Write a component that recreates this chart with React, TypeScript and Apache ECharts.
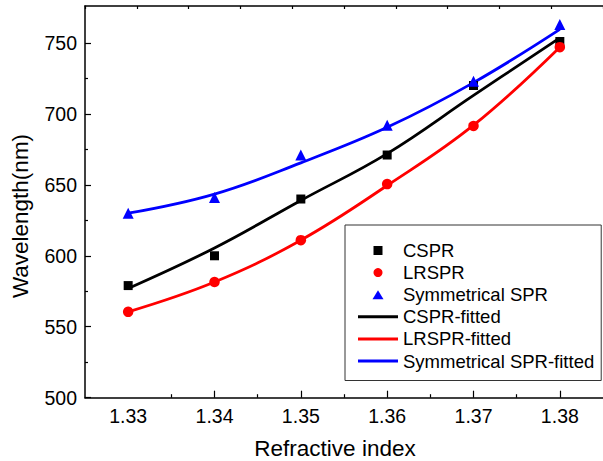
import React, { useEffect, useRef } from "react";
import * as echarts from "echarts";

const FONT = "'Liberation Sans', Arial, Helvetica, sans-serif";

const xValues = [1.33, 1.34, 1.35, 1.36, 1.37, 1.38];
const csprData = [579, 600, 640, 671, 720, 751];
const lrsprData = [560.5, 581.5, 611, 650.5, 691.5, 747];
const symData = [630, 641, 671, 692, 723, 763];
const csprFit = [577, 605.5, 639, 672, 713, 753.5];
const lrsprFit = [560.5, 581.5, 611, 649.5, 692, 747];
const symFit = [630, 643.5, 665.5, 690.5, 722, 759.5];

const xTickLabels = [1.33, 1.34, 1.35, 1.36, 1.37, 1.38];
const xMajorTicks = [1.34, 1.35, 1.36, 1.37, 1.38];
const xMinorTicks = [1.335, 1.345, 1.355, 1.365, 1.375];
const yTickLabels = [500, 550, 600, 650, 700, 750];
const yMinorTicks = [525, 575, 625, 675, 725];

const names = [
  "CSPR",
  "LRSPR",
  "Symmetrical SPR",
  "CSPR-fitted",
  "LRSPR-fitted",
  "Symmetrical SPR-fitted",
];

const pairs = (ys: number[]) => xValues.map((x, i) => [x, ys[i]]);

export default function App() {
  const ref = useRef<HTMLDivElement>(null);
  useEffect(() => {
    if (!ref.current) return;
    const chart = echarts.init(ref.current, undefined, { renderer: "svg" });
    const axisLine = { show: true, lineStyle: { color: "#000", width: 1.5 } };
    const lineIcon = "path://M0,0L40,0L40,3L0,3Z";
    const squareIcon = "path://M0,4.5L0,4.5M15.5,0L24.5,0L24.5,9L15.5,9ZM40,4.5L40,4.5";
    const triIcon = "path://M0,4.5L0,4.5M14.5,9L20,0L25.5,9ZM40,4.5L40,4.5";
    chart.setOption({
      animation: false,
      backgroundColor: "#fff",
      grid: { left: 85, top: 6, right: -9, bottom: 63.3 },
      xAxis: [
        {
          type: "value",
          min: 1.325,
          max: 1.385,
          position: "bottom",
          axisLine,
          axisTick: {
            inside: true,
            length: 7,
            customValues: xMajorTicks,
            lineStyle: { color: "#000", width: 1.2 },
          },
          axisLabel: {
            customValues: xTickLabels,
            formatter: (v: number) => v.toFixed(2),
            fontSize: 19.5,
            color: "#000",
            fontFamily: FONT,
            margin: 8,
          },
          splitLine: { show: false },
        },
        {
          type: "value",
          min: 1.325,
          max: 1.385,
          position: "bottom",
          axisLine: { show: false },
          axisTick: {
            inside: true,
            length: 3.5,
            customValues: xMinorTicks,
            lineStyle: { color: "#000", width: 1.2 },
          },
          axisLabel: { show: false },
          splitLine: { show: false },
        },
        {
          type: "value",
          min: 0,
          max: 10,
          interval: 1,
          position: "top",
          axisLine,
          axisTick: { inside: true, length: 3, lineStyle: { color: "#000", width: 1.2 } },
          axisLabel: { show: false },
          splitLine: { show: false },
        },
      ],
      yAxis: [
        {
          type: "value",
          min: 500,
          max: 776,
          position: "left",
          axisLine,
          axisTick: {
            inside: true,
            length: 6,
            customValues: yTickLabels,
            lineStyle: { color: "#000", width: 1.2 },
          },
          axisLabel: {
            customValues: yTickLabels,
            fontSize: 19.5,
            color: "#000",
            fontFamily: FONT,
            margin: 8,
          },
          splitLine: { show: false },
        },
        {
          type: "value",
          min: 500,
          max: 776,
          position: "left",
          axisLine: { show: false },
          axisTick: {
            inside: true,
            length: 3,
            customValues: yMinorTicks,
            lineStyle: { color: "#000", width: 1.2 },
          },
          axisLabel: { show: false },
          splitLine: { show: false },
        },
      ],
      legend: {
        left: 345,
        top: 225,
        orient: "vertical",
        itemWidth: 40,
        itemHeight: 9,
        itemGap: 3.1,
        symbolKeepAspect: true,
        padding: [16, 7, 10, 13],
        borderColor: "#333",
        borderWidth: 1,
        backgroundColor: "#fff",
        textStyle: { fontSize: 18.5, lineHeight: 18, color: "#000", fontFamily: FONT },
        data: [
          { name: names[0], icon: squareIcon },
          { name: names[1], icon: "circle" },
          { name: names[2], icon: triIcon },
          { name: names[3], icon: lineIcon },
          { name: names[4], icon: lineIcon },
          { name: names[5], icon: lineIcon },
        ],
      },
      graphic: [
        {
          type: "text",
          x: 20,
          y: 216,
          rotation: Math.PI / 2,
          style: {
            text: "Wavelength(nm)",
            font: `22.5px ${FONT}`,
            fill: "#000",
            align: "center",
            verticalAlign: "middle",
          },
        },
        {
          type: "text",
          x: 335,
          y: 448,
          style: {
            text: "Refractive index",
            font: `22.5px ${FONT}`,
            fill: "#000",
            align: "center",
            verticalAlign: "middle",
          },
        },
      ],
      series: [
        {
          name: names[0],
          type: "scatter",
          symbol: "rect",
          symbolSize: 9,
          itemStyle: { color: "#000", opacity: 1 },
          data: pairs(csprData),
          z: 3,
        },
        {
          name: names[1],
          type: "scatter",
          symbol: "circle",
          symbolSize: 10.5,
          itemStyle: { color: "#ff0000", opacity: 1 },
          data: pairs(lrsprData),
          z: 3,
        },
        {
          name: names[2],
          type: "scatter",
          symbol: "triangle",
          symbolSize: 11,
          itemStyle: { color: "#0000ff", opacity: 1 },
          data: pairs(symData),
          z: 3,
        },
        {
          name: names[3],
          type: "line",
          symbol: "none",
          smooth: 0.4,
          lineStyle: { color: "#000", width: 2.8 },
          itemStyle: { color: "#000" },
          data: pairs(csprFit),
          z: 2,
        },
        {
          name: names[4],
          type: "line",
          symbol: "none",
          smooth: 0.4,
          lineStyle: { color: "#ff0000", width: 2.8 },
          itemStyle: { color: "#ff0000" },
          data: pairs(lrsprFit),
          z: 2,
        },
        {
          name: names[5],
          type: "line",
          symbol: "none",
          smooth: 0.4,
          lineStyle: { color: "#0000ff", width: 2.8 },
          itemStyle: { color: "#0000ff" },
          data: pairs(symFit),
          z: 2,
        },
      ],
    });
    return () => chart.dispose();
  }, []);
  return (
    <div
      ref={ref}
      style={{ position: "absolute", left: 0, top: 0, width: 603, height: 461, background: "#fff" }}
    />
  );
}
